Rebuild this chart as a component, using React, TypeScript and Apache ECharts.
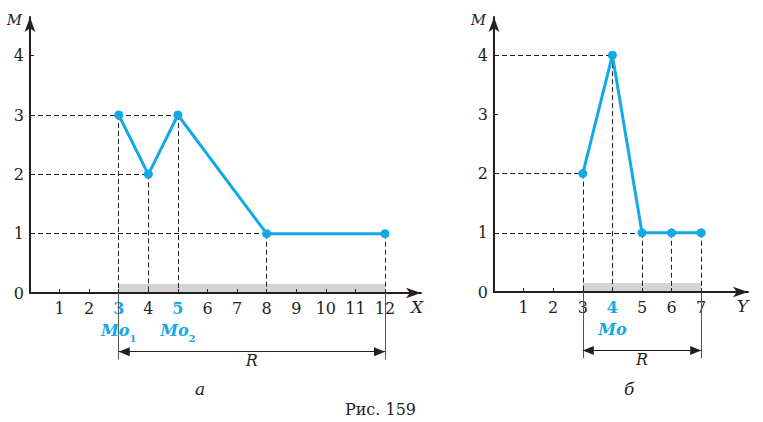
import React, { useEffect, useRef } from 'react';
import * as echarts from 'echarts';

// Panel "а": variable X, frequency M
const xValuesA = [3, 4, 5, 8, 12];
const mValuesA = [3, 2, 3, 1, 1];
const xTicksA = [1, 2, 3, 4, 5, 6, 7, 8, 9, 10, 11, 12];
const modesA = [3, 5];
const rangeA = [3, 12];

// Panel "б": variable Y, frequency M
const yValuesB = [3, 4, 5, 6, 7];
const mValuesB = [2, 4, 1, 1, 1];
const yTicksB = [1, 2, 3, 4, 5, 6, 7];
const modesB = [4];
const rangeB = [3, 7];

const mLabels = [0, 1, 2, 3, 4];
const mTicks = [1, 2, 3, 4];

const BLUE = '#12a9e6';
const INK = '#231f20';
const BAND = '#d4d4d4';
const FONT = 'DejaVu Serif';

function guideLines(xs: number[], ms: number[]) {
  const out: any[] = [];
  xs.forEach((x, i) => {
    out.push([{ coord: [0, ms[i]] }, { coord: [x, ms[i]] }]);
    out.push([{ coord: [x, ms[i]] }, { coord: [x, 0] }]);
  });
  return out;
}

function bracketLines(range: number[]) {
  const arrowEnd = (x: number) => ({
    coord: [x, -0.99],
    symbol: 'triangle',
    symbolSize: [9, 11],
    symbolOffset: [0, 5.5],
  });
  return [
    [{ coord: [range[0], 0] }, { coord: [range[0], -1.12] }],
    [{ coord: [range[1], 0] }, { coord: [range[1], -1.12] }],
    [
      {
        ...arrowEnd(range[0]),
        lineStyle: { color: INK, width: 1.2, type: 'solid' },
        label: {
          show: true,
          position: 'insideMiddleBottom',
          distance: 1,
          formatter: 'R',
          fontFamily: FONT,
          fontStyle: 'italic',
          fontSize: 16,
          color: INK,
        },
      },
      arrowEnd(range[1]),
    ],
  ];
}

function xLabelFormatter(modes: number[]) {
  return (v: number) => {
    const idx = modes.indexOf(v);
    if (idx < 0) return `{num|${v}}`;
    const sub = modes.length > 1 ? `{sub|${idx + 1}}` : '';
    return `{mode|${v}}\n{mo|Mo}${sub}`;
  };
}

const richX = {
  num: { fontFamily: FONT, fontSize: 16, color: INK, lineHeight: 18 },
  mode: { fontFamily: FONT, fontSize: 16, color: BLUE, fontWeight: 'bold', lineHeight: 18 },
  mo: { fontFamily: FONT, fontSize: 16, color: BLUE, fontWeight: 'bold', fontStyle: 'italic', lineHeight: 26 },
  sub: { fontFamily: FONT, fontSize: 10, color: BLUE, fontWeight: 'bold', verticalAlign: 'bottom', lineHeight: 26 },
};

const axisLineStyle = {
  show: true,
  onZero: false,
  symbol: ['none', 'arrow'],
  symbolSize: [8, 15],
  lineStyle: { color: INK, width: 2 },
};

function makeXAxis(gridIndex: number, max: number, ticks: number[], modes: number[], name: string, nameGap: number) {
  return {
    type: 'value',
    gridIndex,
    min: 0,
    max,
    name,
    nameLocation: 'end',
    nameGap,
    nameTextStyle: {
      fontFamily: FONT,
      fontStyle: 'italic',
      fontSize: 17,
      color: INK,
      align: 'left',
      verticalAlign: 'top',
      padding: [5, 0, 0, 0],
    },
    axisLine: axisLineStyle,
    axisTick: { show: true, inside: true, length: 4, customValues: ticks, lineStyle: { color: INK, width: 1 } },
    axisLabel: {
      show: true,
      customValues: ticks,
      margin: 6,
      formatter: xLabelFormatter(modes),
      rich: richX,
    },
    splitLine: { show: false },
  };
}

function makeYAxis(gridIndex: number, max: number) {
  return {
    type: 'value',
    gridIndex,
    min: 0,
    max,
    name: 'M',
    nameLocation: 'end',
    nameGap: -3,
    nameTextStyle: {
      fontFamily: FONT,
      fontStyle: 'italic',
      fontSize: 15,
      color: INK,
      align: 'right',
      verticalAlign: 'middle',
      padding: [0, 8, 0, 0],
    },
    axisLine: axisLineStyle,
    axisTick: { show: true, inside: true, length: 4, customValues: mTicks, lineStyle: { color: INK, width: 1 } },
    axisLabel: {
      show: true,
      customValues: mLabels,
      margin: 6,
      fontFamily: FONT,
      fontSize: 16,
      color: INK,
    },
    splitLine: { show: false },
  };
}

function hiddenAxis(gridIndex: number, min: number, max: number) {
  return {
    type: 'value',
    gridIndex,
    min,
    max,
    show: false,
    splitLine: { show: false },
  };
}

function mainSeries(xAxisIndex: number, yAxisIndex: number, xs: number[], ms: number[], range: number[]) {
  return {
    type: 'line',
    xAxisIndex,
    yAxisIndex,
    data: xs.map((x, i) => [x, ms[i]]),
    symbol: 'circle',
    symbolSize: 9,
    clip: false,
    z: 3,
    itemStyle: { color: BLUE },
    lineStyle: { color: BLUE, width: 3 },
    markLine: {
      silent: true,
      z: 1,
      symbol: ['none', 'none'],
      label: { show: false },
      lineStyle: { color: INK, width: 1, type: [5, 3] },
      data: guideLines(xs, ms),
    },
    markArea: {
      silent: true,
      z: 0,
      itemStyle: { color: BAND },
      data: [[{ coord: [range[0], 0] }, { coord: [range[1], 0.15] }]],
    },
  };
}

function bracketSeries(xAxisIndex: number, yAxisIndex: number, range: number[]) {
  return {
    type: 'line',
    xAxisIndex,
    yAxisIndex,
    data: [],
    clip: false,
    markLine: {
      silent: true,
      symbol: ['none', 'none'],
      label: { show: false },
      lineStyle: { color: '#555', width: 1, type: 'solid' },
      data: bracketLines(range),
    },
  };
}

export default function App() {
  const ref = useRef<HTMLDivElement>(null);

  useEffect(() => {
    document.body.style.margin = '0';
    if (!ref.current) return;
    const chart = echarts.init(ref.current, undefined, { renderer: 'svg' });

    const xMaxA = 391 / 29.583;
    const xMaxB = 254 / 29.6;
    const yMaxA = 276 / 59.33;
    const yMaxB = 275 / 59.2;

    chart.setOption({
      animation: false,
      backgroundColor: '#ffffff',
      grid: [
        { left: 30, top: 17, width: 391, height: 276 },
        { left: 494, top: 17, width: 254, height: 275 },
        { left: 30, top: 293, width: 391, height: 71.2 },
        { left: 494, top: 292, width: 254, height: 71 },
      ],
      xAxis: [
        makeXAxis(0, xMaxA, xTicksA, modesA, 'X', -10),
        makeXAxis(1, xMaxB, yTicksB, modesB, 'Y', -11),
        hiddenAxis(2, 0, xMaxA),
        hiddenAxis(3, 0, xMaxB),
      ],
      yAxis: [
        makeYAxis(0, yMaxA),
        makeYAxis(1, yMaxB),
        hiddenAxis(2, -1.2, 0),
        hiddenAxis(3, -1.2, 0),
      ],
      series: [
        mainSeries(0, 0, xValuesA, mValuesA, rangeA),
        mainSeries(1, 1, yValuesB, mValuesB, rangeB),
        bracketSeries(2, 2, rangeA),
        bracketSeries(3, 3, rangeB),
      ],
      graphic: [
        {
          type: 'text',
          left: 195,
          top: 380,
          style: { text: 'а', font: `italic 17px "${FONT}"`, fill: INK },
        },
        {
          type: 'text',
          left: 624,
          top: 380,
          style: { text: 'б', font: `italic 17px "${FONT}"`, fill: INK },
        },
        {
          type: 'text',
          right: 347,
          top: 401,
          style: { text: 'Рис. 159', font: `16px "${FONT}"`, fill: INK },
        },
      ],
    });

    return () => chart.dispose();
  }, []);

  return <div ref={ref} style={{ width: 763, height: 422 }} />;
}
